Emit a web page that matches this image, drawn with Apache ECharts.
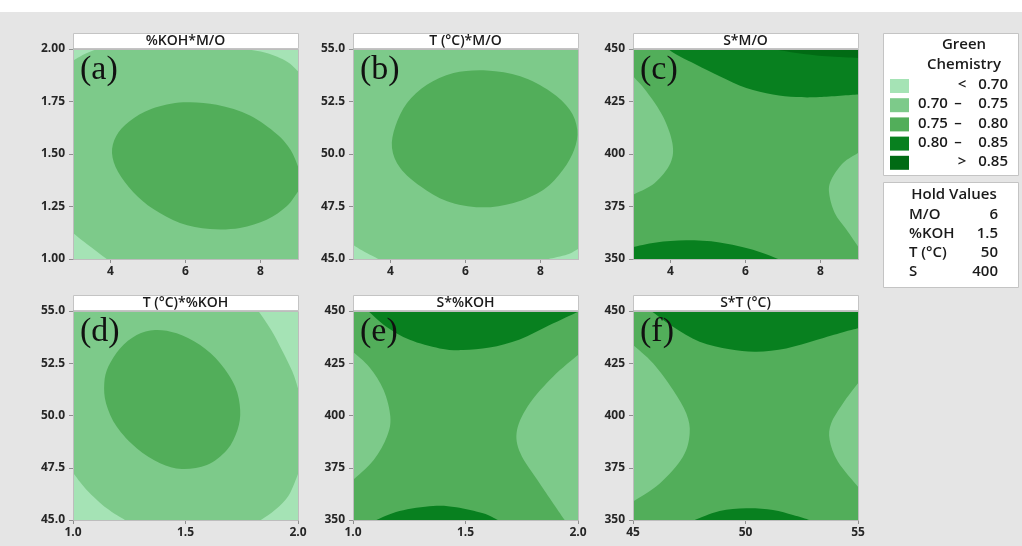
<!DOCTYPE html>
<html>
<head>
<meta charset="utf-8">
<script src="https://cdn.jsdelivr.net/npm/echarts@6/dist/echarts.min.js"></script>
<style>
  html, body { margin: 0; padding: 0; background: #e5e5e5; }
  #chart { width: 1022px; height: 546px; }
</style>
</head>
<body>
<div id="chart"></div>
<script>
// Green Chemistry response classes
const levelBounds = [0.70, 0.75, 0.80, 0.85];
const levelColors = ['#a5e3b5', '#7dca8a', '#52ae5a', '#08801f', '#016b14'];

// panels, left to right, top to bottom
const panelTitles = ['%KOH*M/O', 'T (°C)*M/O', 'S*M/O', 'T (°C)*%KOH', 'S*%KOH', 'S*T (°C)'];
const panelTags = ['(a)', '(b)', '(c)', '(d)', '(e)', '(f)'];
const xExtents = [[3, 9], [3, 9], [3, 9], [1, 2], [1, 2], [45, 55]];
const yExtents = [[1, 2], [45, 55], [350, 450], [45, 55], [350, 450], [350, 450]];
const xTicks = [[4, 6, 8], [4, 6, 8], [4, 6, 8], [1, 1.5, 2], [1, 1.5, 2], [45, 50, 55]];
const xDecimals = [0, 0, 0, 1, 1, 0];
const yTicks = [
  [1, 1.25, 1.5, 1.75, 2],
  [45, 47.5, 50, 52.5, 55],
  [350, 375, 400, 425, 450],
  [45, 47.5, 50, 52.5, 55],
  [350, 375, 400, 425, 450],
  [350, 375, 400, 425, 450]
];
const yDecimals = [2, 1, 0, 1, 0, 0];
// response class that fills the rest of each panel
const baseLevels = [1, 1, 2, 1, 2, 2];

const holdNames = ['M/O', '%KOH', 'T (°C)', 'S'];
const holdValues = ['6', '1.5', '50', '400'];

// contour regions: [class, boundary (x, y) points, frame points closing the region]
// frame = null: the boundary is a closed loop
const contourA = [
  [0, [[7.59, 2], [8.16, 1.981], [8.70, 1.941], [9, 1.894]], [[9, 2]]],
  [0, [[3, 1.944], [3.3, 1.975], [3.64, 2]], [[3, 2]]],
  [0, [[3, 1.124], [3.36, 1.073], [3.9, 1]], [[3, 1]]],
  [2, [[9, 1.441], [8.80, 1.52], [8.431, 1.595], [7.72, 1.683], [6.831, 1.734], [5.942, 1.746],
       [5.1, 1.715], [4.5, 1.655], [4.15, 1.585], [4.04, 1.505], [4.2, 1.415], [4.609, 1.318],
       [5.142, 1.238], [5.853, 1.172], [6.653, 1.143], [7.453, 1.148], [8.164, 1.187], [8.698, 1.251],
       [9, 1.322]], []]
];
const contourB = [
  [0, [[3, 45.68], [3.28, 45.37], [3.68, 45]], [[3, 45]]],
  [0, [[8.22, 45], [8.71, 45.21], [9, 45.48]], [[9, 45]]],
  [2, [[4.04, 50.29], [4.13, 51.32], [4.44, 52.43], [4.97, 53.30], [5.68, 53.86], [6.57, 53.98],
       [7.46, 53.70], [8.26, 52.98], [8.78, 52.11], [8.98, 51.16], [8.90, 50.21], [8.60, 49.25],
       [8.08, 48.30], [7.28, 47.67], [6.40, 47.46], [5.51, 47.75], [4.80, 48.46], [4.26, 49.33]], null]
];
const contourC = [
  [3, [[3.93, 450], [4.24, 446.5], [4.69, 442.5], [5.31, 437], [6.02, 431.4], [6.73, 428.3],
       [7.36, 427.1], [7.98, 427.1], [9, 428.3]], [[9, 450]]],
  [4, [[6.73, 450], [7.36, 448.1], [8.16, 446.5], [9, 445.7]], [[9, 450]]],
  [1, [[3, 437.0], [3.36, 429.8], [3.8, 417.9], [4.05, 405.2], [4.0, 395.7], [3.58, 386.2], [3, 380.6]], []],
  [1, [[9, 400.5], [8.6, 395.7], [8.29, 387.8], [8.23, 381.4], [8.38, 371.9], [8.69, 364.0], [9, 356.0]], []],
  [3, [[3, 355.7], [3.62, 357.9], [4.42, 358.9], [5.31, 357.9], [6.2, 354.4], [6.87, 350]], [[3, 350]]]
];
const contourD = [
  [0, [[1.824, 55], [1.88, 54.1], [1.93, 53.1], [1.975, 52.1], [2, 51.3]], [[2, 55]]],
  [0, [[2, 47.2], [1.96, 46.2], [1.9, 45.5], [1.835, 45]], [[2, 45]]],
  [0, [[1, 47.26], [1.061, 46.44], [1.15, 45.56], [1.231, 45]], [[1, 45]]],
  [2, [[1.139, 51.54], [1.157, 52.34], [1.209, 53.21], [1.283, 53.85], [1.365, 54.09], [1.461, 53.93],
       [1.565, 53.37], [1.654, 52.50], [1.721, 51.38], [1.743, 50.26], [1.731, 49.31], [1.684, 48.35],
       [1.595, 47.63], [1.484, 47.44], [1.387, 47.71], [1.283, 48.43], [1.194, 49.47], [1.147, 50.58]], null]
];
const contourE = [
  [3, [[1.067, 450], [1.148, 442.5], [1.252, 436.2], [1.385, 432.1], [1.489, 431.3], [1.607, 432.5],
       [1.741, 436.4], [1.874, 443.3], [2, 449.7]], [[2, 450]]],
  [1, [[1, 430.5], [1.074, 423.0], [1.136, 412.2], [1.166, 399.4], [1.151, 389.9], [1.092, 378.7], [1, 369.1]], []],
  [1, [[2, 428.9], [1.889, 418.6], [1.785, 405.8], [1.729, 393.1], [1.744, 381.9], [1.83, 367.5], [1.941, 350]], [[2, 350]]],
  [3, [[1.104, 350], [1.207, 354.3], [1.356, 356.7], [1.459, 356.1], [1.578, 353.2], [1.644, 350]], []]
];
const contourF = [
  [3, [[45.81, 450], [46.78, 442.5], [47.96, 435.3], [49.30, 431.7], [50.48, 430.5], [51.81, 432.1],
       [53.15, 436.1], [54.33, 439.8], [55, 441.7]], [[55, 450]]],
  [1, [[45, 433.7], [45.89, 425.0], [46.78, 412.2], [47.37, 401.0], [47.52, 391.5], [47.22, 380.3],
       [46.19, 367.5], [45, 358.8]], []],
  [1, [[55, 415.4], [54.33, 405.8], [53.81, 396.3], [53.74, 388.3], [54.11, 377.9], [55, 365.9]], []],
  [3, [[47.74, 350], [48.85, 354.3], [50.04, 355.6], [51.22, 354.8], [52.11, 352.4], [52.85, 350]], []]
];
const contours = [contourA, contourB, contourC, contourD, contourE, contourF];

// ---- layout ----
const colLeft = [73, 353, 633];
const rowTop = [49, 311];
const rowHeight = [210, 209];
const plotW = 225;
const FONT = '"Open Sans", "Noto Sans", sans-serif';
const TEXT = '#262626';
const INK = '#1a1a1a';

// smooth boundary through the points (Catmull-Rom as cubic Bezier)
function smoothPath(pts, loop) {
  const n = pts.length;
  const at = (i) => loop ? pts[(i + n) % n] : pts[Math.max(0, Math.min(n - 1, i))];
  let d = 'M' + pts[0][0] + ' ' + pts[0][1];
  const segs = loop ? n : n - 1;
  for (let i = 0; i < segs; i++) {
    const p0 = at(i - 1), p1 = at(i), p2 = at(i + 1), p3 = at(i + 2);
    const c1x = p1[0] + (p2[0] - p0[0]) / 6, c1y = p1[1] + (p2[1] - p0[1]) / 6;
    const c2x = p2[0] - (p3[0] - p1[0]) / 6, c2y = p2[1] - (p3[1] - p1[1]) / 6;
    d += ' C' + c1x + ' ' + c1y + ' ' + c2x + ' ' + c2y + ' ' + p2[0] + ' ' + p2[1];
  }
  return d;
}

const grids = [], xAxes = [], yAxes = [], series = [], graphics = [];

graphics.push({ type: 'rect', shape: { x: 0, y: 0, width: 1022, height: 12 }, style: { fill: '#ffffff' }, silent: true });

for (let p = 0; p < 6; p++) {
  const left = colLeft[p % 3];
  const top = rowTop[Math.floor(p / 3)];
  const h = rowHeight[Math.floor(p / 3)];
  grids.push({ left: left, top: top, width: plotW, height: h, containLabel: false });

  const labelStyle = { color: TEXT, fontFamily: FONT, fontSize: 12, fontWeight: 700 };
  xAxes.push({
    gridIndex: p, type: 'value', min: xExtents[p][0], max: xExtents[p][1],
    axisLine: { show: true, onZero: false, lineStyle: { color: '#8f8f8f', width: 1 } },
    axisTick: { show: true, customValues: xTicks[p], length: 4, lineStyle: { color: '#8f8f8f' } },
    axisLabel: Object.assign({ customValues: xTicks[p], margin: 7,
      formatter: (v) => Number(v).toFixed(xDecimals[p]) }, labelStyle),
    splitLine: { show: false }
  });
  yAxes.push({
    gridIndex: p, type: 'value', min: yExtents[p][0], max: yExtents[p][1],
    axisLine: { show: true, onZero: false, lineStyle: { color: '#8f8f8f', width: 1 } },
    axisTick: { show: true, customValues: yTicks[p], length: 4, lineStyle: { color: '#8f8f8f' } },
    axisLabel: Object.assign({ customValues: yTicks[p], margin: 8,
      formatter: (v) => Number(v).toFixed(yDecimals[p]) }, labelStyle),
    splitLine: { show: false }
  });

  const x0 = xExtents[p][0], x1 = xExtents[p][1], y0 = yExtents[p][0], y1 = yExtents[p][1];
  const regions = [[baseLevels[p], [[x0, y0], [x1, y0], [x1, y1], [x0, y1]], []]].concat(contours[p]);
  series.push({
    type: 'custom', xAxisIndex: p, yAxisIndex: p, clip: true, silent: true, animation: false,
    data: regions.map(() => [x0, y0]),
    renderItem: function (params, api) {
      const r = regions[params.dataIndex];
      const px = r[1].map((q) => api.coord(q));
      let d;
      if (params.dataIndex === 0) {
        d = 'M' + px.map((q) => q[0] + ' ' + q[1]).join(' L') + ' Z';
      } else if (r[2] === null) {
        d = smoothPath(px, true) + ' Z';
      } else {
        d = smoothPath(px, false);
        r[2].forEach((q) => { const c = api.coord(q); d += ' L' + c[0] + ' ' + c[1]; });
        d += ' Z';
      }
      return { type: 'path', shape: { pathData: d }, style: { fill: levelColors[r[0]], stroke: null } };
    }
  });

  // frame, title bar and panel tag
  graphics.push({ type: 'rect', shape: { x: left + 0.5, y: top + 0.5, width: plotW, height: h },
    style: { fill: null, stroke: '#bdbdbd', lineWidth: 1 }, silent: true, z: 95 });
  graphics.push({ type: 'rect', shape: { x: left + 0.5, y: top - 15.5, width: plotW, height: 15 },
    style: { fill: '#ffffff', stroke: '#c4c4c4', lineWidth: 1 }, silent: true });
  graphics.push({ type: 'text', x: left + plotW / 2, y: top - 7.5, silent: true,
    style: { text: panelTitles[p], fill: INK, font: '600 14px ' + FONT, align: 'center', verticalAlign: 'middle' } });
  graphics.push({ type: 'text', x: left + 7, y: top + 4, silent: true, z: 100,
    style: { text: panelTags[p], fill: '#111111', font: '34px "Liberation Serif", "DejaVu Serif", serif', align: 'left', verticalAlign: 'top' } });
}

// legend of response classes
const LX = 883, LY = 33;
const LFONT = '600 15px ' + FONT;
graphics.push({ type: 'rect', shape: { x: LX + 0.5, y: LY + 0.5, width: 135, height: 142 },
  style: { fill: '#ffffff', stroke: '#c4c4c4', lineWidth: 1 }, silent: true });
['Green', 'Chemistry'].forEach((t, i) => {
  graphics.push({ type: 'text', x: 964, y: 45 + i * 19.5, silent: true,
    style: { text: t, fill: INK, font: LFONT, align: 'center', verticalAlign: 'middle' } });
});
levelColors.forEach((c, i) => {
  const cy = 86 + i * 19.2;
  graphics.push({ type: 'rect', shape: { x: 890, y: cy - 7, width: 19, height: 14 }, style: { fill: c }, silent: true });
  let lo = '', mid = '', hi = '';
  if (i === 0) { mid = '<'; hi = levelBounds[0].toFixed(2); }
  else if (i === levelColors.length - 1) { mid = '>'; hi = levelBounds[levelBounds.length - 1].toFixed(2); }
  else { lo = levelBounds[i - 1].toFixed(2); mid = '–'; hi = levelBounds[i].toFixed(2); }
  if (lo) graphics.push({ type: 'text', x: 918, y: cy - 1, silent: true,
    style: { text: lo, fill: INK, font: LFONT, align: 'left', verticalAlign: 'middle' } });
  graphics.push({ type: 'text', x: lo ? 958 : 962, y: cy - 1, silent: true,
    style: { text: mid, fill: INK, font: LFONT, align: 'center', verticalAlign: 'middle' } });
  graphics.push({ type: 'text', x: 1008, y: cy - 1, silent: true,
    style: { text: hi, fill: INK, font: LFONT, align: 'right', verticalAlign: 'middle' } });
});

// hold values
graphics.push({ type: 'rect', shape: { x: LX + 0.5, y: 182.5, width: 135, height: 105 },
  style: { fill: '#ffffff', stroke: '#c4c4c4', lineWidth: 1 }, silent: true });
graphics.push({ type: 'text', x: 954, y: 195, silent: true,
  style: { text: 'Hold Values', fill: INK, font: LFONT, align: 'center', verticalAlign: 'middle' } });
holdNames.forEach((n, i) => {
  const cy = 214.5 + i * 19;
  graphics.push({ type: 'text', x: 909, y: cy, silent: true,
    style: { text: n, fill: INK, font: LFONT, align: 'left', verticalAlign: 'middle' } });
  graphics.push({ type: 'text', x: 998, y: cy, silent: true,
    style: { text: holdValues[i], fill: INK, font: LFONT, align: 'right', verticalAlign: 'middle' } });
});

const chart = echarts.init(document.getElementById('chart'), null, { renderer: 'canvas' });
chart.setOption({
  backgroundColor: '#e5e5e5',
  animation: false,
  grid: grids,
  xAxis: xAxes,
  yAxis: yAxes,
  series: series,
  graphic: { elements: graphics }
});
</script>
</body>
</html>
